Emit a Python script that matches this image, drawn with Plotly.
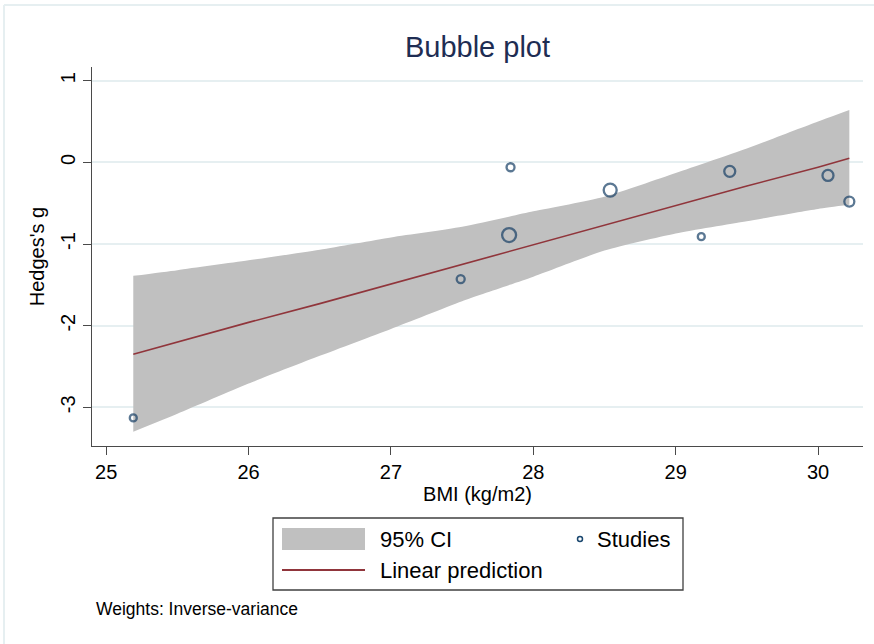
import plotly.graph_objects as go

# ---- data ----
bmi = [25.19, 27.49, 27.84, 27.83, 28.54, 29.18, 29.38, 30.07, 30.22]
hedges_g = [-3.13, -1.43, -0.06, -0.89, -0.34, -0.91, -0.11, -0.16, -0.48]
bubble_size = [7, 8, 8, 14, 13, 7, 11, 11, 10]

fit_x = [25.19, 25.5, 26.0, 26.5, 27.0, 27.5, 28.0, 28.5, 29.0, 29.5, 30.0, 30.22]
fit_y = [-2.35, -2.20, -1.96, -1.73, -1.49, -1.25, -1.01, -0.77, -0.53, -0.29, -0.06, 0.05]
ci_upper = [-1.39, -1.32, -1.20, -1.07, -0.92, -0.79, -0.60, -0.42, -0.13, 0.17, 0.50, 0.64]
ci_lower = [-3.30, -3.08, -2.71, -2.37, -2.04, -1.70, -1.40, -1.08, -0.87, -0.72, -0.57, -0.52]

x_ticks = [25, 26, 27, 28, 29, 30]
y_ticks = [-3, -2, -1, 0, 1]
y_ticktext = ["-3", "-2", "-1", "0", "1"]

NAVY = "#1a476f"
MAROON = "#90353b"
CI_GRAY = "#c0c0c0"
GRID = "#e6eff1"
FONT = "Liberation Sans, Arial, sans-serif"

W, H = 874, 644
L, R, T, B = 92, 863, 67, 446


def px(x):
    return (x - L) / (R - L)


def py(y):
    return (B - y) / (B - T)


fig = go.Figure()

fig.add_trace(go.Scatter(
    x=fit_x, y=ci_lower, mode="lines",
    line=dict(width=0, color=CI_GRAY, shape="spline", smoothing=0.6),
    showlegend=False, hoverinfo="skip"))
fig.add_trace(go.Scatter(
    x=fit_x, y=ci_upper, mode="lines", fill="tonexty", fillcolor=CI_GRAY,
    line=dict(width=0, color=CI_GRAY, shape="spline", smoothing=0.6),
    name="95% CI", showlegend=False, hoverinfo="skip"))

fig.add_trace(go.Scatter(
    x=fit_x, y=fit_y, mode="lines", line=dict(color=MAROON, width=1.6),
    name="Linear prediction", showlegend=False))

fig.add_trace(go.Scatter(
    x=bmi, y=hedges_g, mode="markers", name="Studies", showlegend=False,
    marker=dict(size=bubble_size, color="rgba(0,0,0,0)",
                line=dict(color="#173f66", width=2.3))))

shapes = [
    # outer frame
    dict(type="line", xref="paper", yref="paper", x0=px(4), x1=px(874), y0=py(5), y1=py(5),
         line=dict(color=GRID, width=2)),
    dict(type="line", xref="paper", yref="paper", x0=px(4), x1=px(4), y0=py(5), y1=py(644),
         line=dict(color=GRID, width=2)),
    # legend box
    dict(type="rect", xref="paper", yref="paper", x0=px(273), x1=px(683), y0=py(590), y1=py(518),
         line=dict(color="#404040", width=1.3), fillcolor="white"),
    dict(type="rect", xref="paper", yref="paper", x0=px(282), x1=px(365), y0=py(550), y1=py(528),
         line=dict(width=0), fillcolor=CI_GRAY),
    dict(type="line", xref="paper", yref="paper", x0=px(282), x1=px(365), y0=py(570), y1=py(570),
         line=dict(color=MAROON, width=2)),
    dict(type="circle", xref="paper", yref="paper", x0=px(577.5), x1=px(582.5), y0=py(541.5), y1=py(536.5),
         line=dict(color=NAVY, width=1.5)),
]

annotations = [
    dict(text="95% CI", x=px(378), y=py(539), xref="paper", yref="paper", xanchor="left",
         yanchor="middle", showarrow=False, font=dict(size=22, color="black", family=FONT)),
    dict(text="Studies", x=px(595), y=py(539), xref="paper", yref="paper", xanchor="left",
         yanchor="middle", showarrow=False, font=dict(size=22, color="black", family=FONT)),
    dict(text="Linear prediction", x=px(378), y=py(570), xref="paper", yref="paper", xanchor="left",
         yanchor="middle", showarrow=False, font=dict(size=22, color="black", family=FONT)),
    dict(text="Weights: Inverse-variance", x=px(94), y=py(609), xref="paper", yref="paper",
         xanchor="left", yanchor="middle", showarrow=False,
         font=dict(size=17.5, color="black", family=FONT)),
]

fig.update_layout(
    width=W, height=H,
    margin=dict(l=L, r=W - R, t=T, b=H - B),
    paper_bgcolor="white", plot_bgcolor="white",
    font=dict(family=FONT, color="black"),
    title=dict(text="Bubble plot", x=0.5, xref="paper", y=1 - 47 / H, yref="container",
               xanchor="center", yanchor="middle",
               font=dict(size=29, color="#1e2d53", family=FONT)),
    shapes=shapes, annotations=annotations, showlegend=False,
)

fig.update_xaxes(
    range=[24.90, 30.316], tickvals=x_ticks, showgrid=False, zeroline=False,
    showline=True, linecolor="#4a4a4a", linewidth=1.3,
    ticks="outside", ticklen=8, tickcolor="#4a4a4a", tickwidth=1.3,
    tickfont=dict(size=20, color="black"),
    title=dict(text="BMI (kg/m2)", font=dict(size=20, color="black"), standoff=4))

fig.update_yaxes(
    range=[-3.474, 1.168], tickvals=y_ticks, ticktext=y_ticktext, tickangle=-90,
    showgrid=True, gridcolor=GRID, gridwidth=1.5, zeroline=False,
    showline=True, linecolor="#4a4a4a", linewidth=1.3,
    ticks="outside", ticklen=8, tickcolor="#4a4a4a", tickwidth=1.3,
    tickfont=dict(size=20, color="black"),
    title=dict(text="Hedges's g", font=dict(size=20, color="black"), standoff=6))

fig.write_html("out.html")
